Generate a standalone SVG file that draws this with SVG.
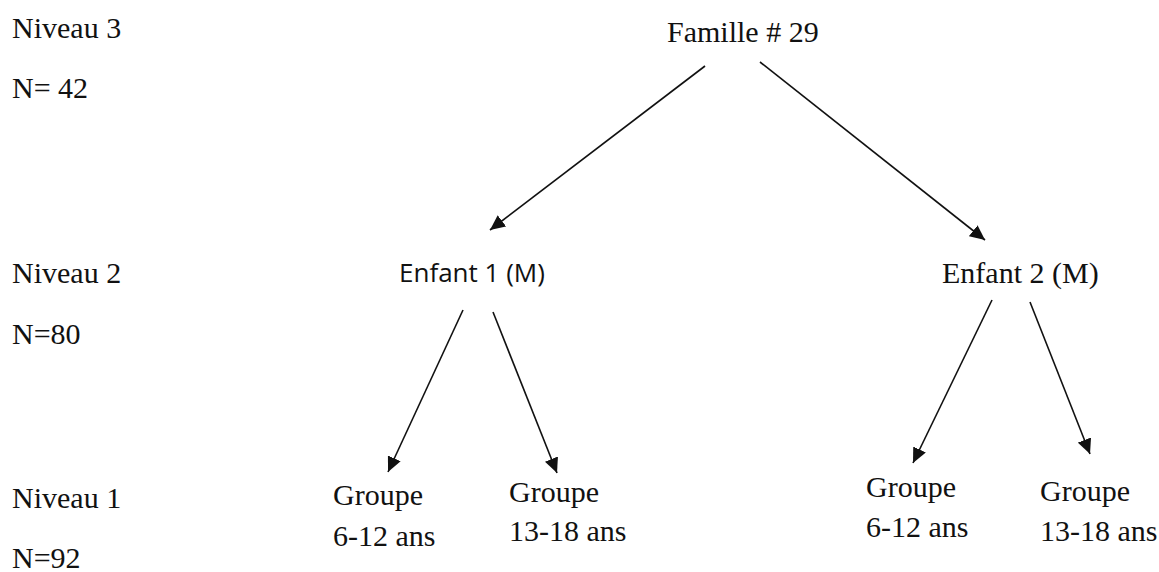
<svg xmlns="http://www.w3.org/2000/svg" width="1159" height="572" viewBox="0 0 1159 572">
<style>
.t{font-family:"Liberation Serif","Times New Roman",serif;font-size:30px;fill:#111}
.s{font-family:"Open Sans","Liberation Sans",sans-serif;font-size:26px;fill:#111}
.c{stroke:#111;stroke-width:1.6;fill:none;marker-end:url(#ah)}
</style>
<defs>
<marker id="ah" markerUnits="userSpaceOnUse" markerWidth="16" markerHeight="14" refX="15" refY="7" orient="auto">
<path d="M0,0 L15,7 L0,14 z" fill="#111"/>
</marker>
</defs>
<rect width="1159" height="572" fill="#fff"/>
<g id="levels">
<text class="t" x="12" y="38">Niveau 3</text>
<text class="t" x="12" y="98">N= 42</text>
<text class="t" x="12" y="283">Niveau 2</text>
<text class="t" x="12" y="344">N=80</text>
<text class="t" x="12" y="508">Niveau 1</text>
<text class="t" x="12" y="568">N=92</text>
</g>
<g id="famille"><text class="t" x="667" y="42">Famille # 29</text></g>
<g id="enfant1"><text class="s" x="399" y="282">Enfant 1 (M)</text></g>
<g id="enfant2"><text class="t" x="942" y="283">Enfant 2 (M)</text></g>
<g id="g1a"><text class="t" x="333" y="505">Groupe</text><text class="t" x="333" y="546">6-12 ans</text></g>
<g id="g1b"><text class="t" x="509" y="502">Groupe</text><text class="t" x="509" y="541">13-18 ans</text></g>
<g id="g2a"><text class="t" x="866" y="497">Groupe</text><text class="t" x="866" y="537">6-12 ans</text></g>
<g id="g2b"><text class="t" x="1040" y="501">Groupe</text><text class="t" x="1040" y="541">13-18 ans</text></g>
<g id="connectors">
<line class="c" x1="705" y1="66" x2="490" y2="230"/>
<line class="c" x1="760" y1="62" x2="985" y2="240"/>
<line class="c" x1="463" y1="310" x2="388" y2="472"/>
<line class="c" x1="493" y1="312" x2="557" y2="473"/>
<line class="c" x1="992" y1="300" x2="913" y2="463"/>
<line class="c" x1="1030" y1="302" x2="1090" y2="454"/>
</g>
</svg>
